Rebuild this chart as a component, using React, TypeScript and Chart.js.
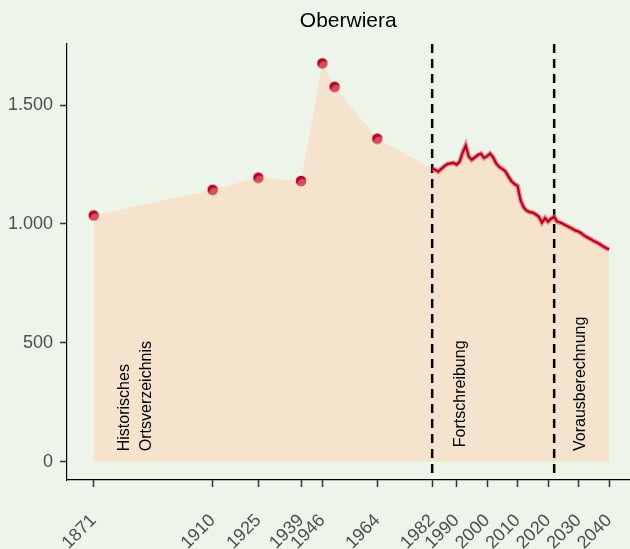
import React, { useEffect, useRef } from "react";
import { Chart, registerables } from "chart.js";
Chart.register(...registerables);

const TITLE = "Oberwiera";
const histYears = [1871, 1910, 1925, 1939, 1946, 1950, 1964];
const histValues = [1036, 1144, 1195, 1181, 1676, 1577, 1359];
const annualYears = [
  1982, 1983, 1984, 1985, 1986, 1987, 1988, 1989, 1990, 1991, 1992, 1993, 1994, 1995, 1996,
  1997, 1998, 1999, 2000, 2001, 2002, 2003, 2004, 2005, 2006, 2007, 2008, 2009, 2010, 2011,
  2012, 2013, 2014, 2015, 2016, 2017, 2018, 2019, 2020, 2021, 2022, 2023, 2024, 2025, 2026,
  2027, 2028, 2029, 2030, 2031, 2032, 2033, 2034, 2035, 2036, 2037, 2038, 2039, 2040,
];
const annualValues = [
  1233, 1228, 1220, 1232, 1243, 1252, 1255, 1257, 1250, 1262, 1300, 1330, 1284, 1270, 1280,
  1290, 1296, 1278, 1285, 1296, 1280, 1255, 1240, 1232, 1222, 1200, 1180, 1168, 1160, 1100,
  1070, 1056, 1050, 1048, 1040, 1030, 1006, 1025, 1010, 1022, 1029, 1010, 1006, 1000, 993,
  986, 980, 972, 968, 960, 950, 943, 936, 928, 922, 915, 906, 899, 893,
];
const xTickYears = [1871, 1910, 1925, 1939, 1946, 1964, 1982, 1990, 2000, 2010, 2020, 2030, 2040];
const yTickValues = [0, 500, 1000, 1500];
const phaseBreakYears = [1982, 2022];
const phaseLabelTexts = [["Historisches", "Ortsverzeichnis"], ["Fortschreibung"], ["Vorausberechnung"]];
const phaseLabelYears = [1884.8, 1991.3, 2030.8];
const phaseLabelValues = [44, 61, 45];

const FONT = "'Liberation Sans', Arial, Helvetica, sans-serif";
const BG = "#edf5eb";
const AREA = "#f5e3cd";
const DARK = "#b5001f";
// canvas is wider than the window so that the axis' right label padding falls outside the view
const CANVAS_W = 648;
const CANVAS_H = 549;

const fmt = (v: number) => String(v).replace(/\B(?=(\d{3})+(?!\d))/g, ".");

function makeDot(): HTMLCanvasElement {
  const c = document.createElement("canvas");
  c.width = 12;
  c.height = 12;
  const g = c.getContext("2d")!;
  g.beginPath();
  g.arc(6, 6, 5.2, 0, Math.PI * 2);
  g.fillStyle = DARK;
  g.fill();
  g.save();
  g.beginPath();
  g.arc(6, 6, 5.2, 0, Math.PI * 2);
  g.clip();
  g.beginPath();
  g.arc(7.5, 9, 5, 0, Math.PI * 2);
  g.fillStyle = "rgba(222,95,105,0.8)";
  g.fill();
  g.restore();
  return c;
}

export default function App() {
  const ref = useRef<HTMLCanvasElement | null>(null);
  useEffect(() => {
    if (!ref.current) return;
    const dot = makeDot();
    const hist = histYears.map((x, i) => ({ x, y: histValues[i] }));
    const annual = annualYears.map((x, i) => ({ x, y: annualValues[i] }));

    const bgPlugin = {
      id: "bg",
      beforeDraw(chart: any) {
        const ctx = chart.ctx;
        ctx.save();
        ctx.fillStyle = BG;
        ctx.fillRect(0, 0, chart.width, chart.height);
        ctx.restore();
      },
    };
    const annoPlugin = {
      id: "anno",
      afterDatasetDraw(chart: any, args: any) {
        if (args.index !== 0) return;
        const ctx = chart.ctx;
        const xs = chart.scales.x;
        const ys = chart.scales.y;
        const area = chart.chartArea;
        ctx.save();
        ctx.fillStyle = "#000";
        ctx.font = `16px ${FONT}`;
        ctx.textAlign = "left";
        ctx.textBaseline = "middle";
        phaseLabelTexts.forEach((lines, i) => {
          const cx = xs.getPixelForValue(phaseLabelYears[i]);
          const by = ys.getPixelForValue(phaseLabelValues[i]);
          const gap = 21.7;
          lines.forEach((t, j) => {
            const off = (j - (lines.length - 1) / 2) * gap;
            ctx.save();
            ctx.translate(cx + off, by);
            ctx.rotate(-Math.PI / 2);
            ctx.fillText(t, 0, 0);
            ctx.restore();
          });
        });
        ctx.strokeStyle = "#000";
        ctx.lineWidth = 2.5;
        ctx.setLineDash([9, 6]);
        phaseBreakYears.forEach((yr) => {
          const px = xs.getPixelForValue(yr);
          ctx.beginPath();
          ctx.moveTo(px, area.top);
          ctx.lineTo(px, area.bottom);
          ctx.stroke();
        });
        ctx.restore();
      },
    };

    const chart = new Chart(ref.current, {
      type: "line",
      data: {
        datasets: [
          {
            data: [...hist, ...annual],
            fill: "origin",
            backgroundColor: AREA,
            borderWidth: 0,
            borderColor: "rgba(0,0,0,0)",
            pointRadius: 0,
            tension: 0,
            order: 10,
          } as any,
          {
            data: annual,
            borderColor: "rgba(222,95,105,0.65)",
            borderWidth: 5,
            pointRadius: 0,
            fill: false,
            tension: 0,
            order: 5,
          },
          {
            data: annual,
            borderColor: DARK,
            borderWidth: 2.2,
            pointRadius: 0,
            fill: false,
            tension: 0,
            order: 4,
          },
          {
            data: hist,
            showLine: false,
            pointStyle: dot as any,
            pointRadius: 6,
            fill: false,
            order: 1,
          },
        ],
      },
      options: {
        animation: false,
        responsive: false,
        events: [],
        layout: { padding: 0 },
        plugins: {
          legend: { display: false },
          tooltip: { enabled: false },
          title: {
            display: true,
            text: TITLE,
            fullSize: false,
            color: "#000",
            font: { family: FONT, size: 21, weight: "normal" as any },
            padding: { top: 9, bottom: 9.8 },
          },
        },
        scales: {
          x: {
            type: "linear",
            min: 1862.27,
            max: 2046.7,
            afterBuildTicks: (s: any) => {
              s.ticks = xTickYears.map((v) => ({ value: v }));
            },
            afterFit: (s: any) => {
              s.height = 69;
            },
            ticks: {
              autoSkip: false,
              minRotation: 45,
              maxRotation: 45,
              color: "#4d4d4d",
              font: { family: FONT, size: 18 },
              padding: 23,
              callback: (v: any) => String(v),
            },
            grid: {
              display: true,
              drawOnChartArea: false,
              drawTicks: true,
              tickLength: 7,
              tickColor: "#333",
              tickWidth: 1.5,
              color: "rgba(0,0,0,0)",
            },
            border: { display: true, color: "#000", width: 1.2 },
          },
          y: {
            type: "linear",
            min: -77,
            max: 1757,
            afterBuildTicks: (s: any) => {
              s.ticks = yTickValues.map((v) => ({ value: v }));
            },
            afterFit: (s: any) => {
              s.width = 67;
            },
            ticks: {
              color: "#4d4d4d",
              font: { family: FONT, size: 18 },
              padding: 7,
              callback: (v: any) => fmt(Number(v)),
            },
            grid: {
              display: true,
              drawOnChartArea: false,
              drawTicks: true,
              tickLength: 7,
              tickColor: "#333",
              tickWidth: 1.5,
              color: "rgba(0,0,0,0)",
            },
            border: { display: true, color: "#000", width: 1.2 },
          },
        },
      },
      plugins: [bgPlugin, annoPlugin],
    });
    return () => chart.destroy();
  }, []);

  return (
    <div style={{ position: "fixed", left: 0, top: 0, width: 630, height: 549, overflow: "hidden", background: BG }}>
      <canvas
        ref={ref}
        width={CANVAS_W}
        height={CANVAS_H}
        style={{ width: CANVAS_W, height: CANVAS_H, display: "block" }}
      />
    </div>
  );
}
